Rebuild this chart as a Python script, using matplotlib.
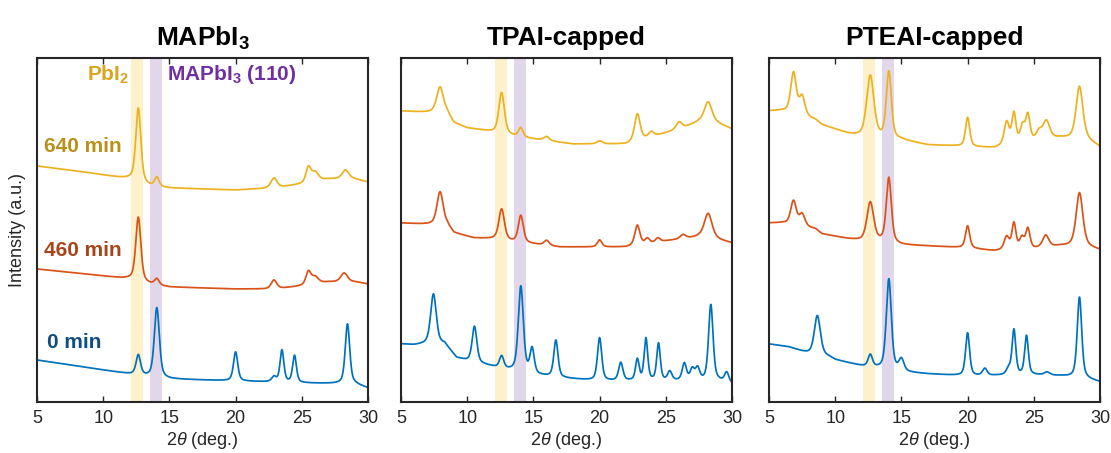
import numpy as np
import matplotlib
matplotlib.use("Agg")
import matplotlib.pyplot as plt
from matplotlib import font_manager

plt.rcParams['font.family'] = ['Liberation Sans', 'DejaVu Sans']
plt.rcParams['mathtext.fontset'] = 'custom'
plt.rcParams['mathtext.rm'] = 'Liberation Sans'
plt.rcParams['mathtext.it'] = 'Liberation Sans:italic'
plt.rcParams['mathtext.bf'] = 'Liberation Sans:bold'

_names = {f.name for f in font_manager.fontManager.ttflist}
tick_family = ['Liberation Sans Narrow'] if 'Liberation Sans Narrow' in _names else ['Liberation Sans']

# ---------------- data ----------------
titles = ["MAPbI$_\\mathbf{3}$", "TPAI-capped", "PTEAI-capped"]
series_names = ["0 min", "460 min", "640 min"]
x_ticks = [5, 10, 15, 20, 25, 30]

# Each trace: baseline anchor points (2theta, intensity) and peaks (pos, height, fwhm)
# ---- Panel 1: MAPbI3
p1_0min_base_x = [5, 8, 12, 13.5, 15, 20, 25, 29, 30]
p1_0min_base_y = [42, 36, 28, 25, 23, 21, 19, 18, 14]
p1_0min_peaks = [(12.65, 20, 0.4), (14.05, 70, 0.45), (20.0, 29, 0.38), (22.9, 5, 0.4),
                 (23.5, 32, 0.34), (24.45, 27, 0.34), (28.45, 60, 0.4)]

p1_460_base_x = [5, 8, 12, 13.5, 15, 20, 23, 25, 27, 29, 30]
p1_460_base_y = [133, 129, 123, 118, 115, 113, 113, 116, 120, 120, 118]
p1_460_peaks = [(12.65, 64, 0.45), (14.05, 6, 0.4), (22.9, 9, 0.5),
                (25.5, 13, 0.45), (26.0, 7, 0.6), (28.2, 9, 0.6)]

p1_640_base_x = [5, 8, 12, 13.5, 15, 20, 23, 25, 27, 29, 30]
p1_640_base_y = [236, 231, 223, 216, 214, 212, 214, 218, 223, 223, 220]
p1_640_peaks = [(12.65, 74, 0.45), (14.05, 9, 0.4), (22.9, 10, 0.55),
                (25.5, 15, 0.45), (26.0, 9, 0.6), (28.3, 9, 0.6)]

# ---- Panel 2: TPAI-capped
p2_0min_base_x = [5, 6, 7, 8.3, 9.2, 10, 12, 13, 15, 17, 20, 25, 29, 30]
p2_0min_base_y = [58, 57, 58, 58, 44, 41, 35, 32, 27, 24, 21, 21, 21, 18]
p2_0min_peaks = [(7.45, 50, 0.5), (10.55, 36, 0.42), (12.6, 12, 0.38), (14.05, 86, 0.45),
                 (14.9, 25, 0.38), (16.7, 37, 0.38), (20.0, 43, 0.38), (21.6, 18, 0.38),
                 (22.85, 21, 0.32), (23.5, 42, 0.32), (24.45, 37, 0.32), (25.3, 9, 0.38),
                 (26.4, 17, 0.38), (27.0, 11, 0.38), (27.4, 12, 0.38), (28.4, 76, 0.4),
                 (29.6, 10, 0.38)]

p2_460_base_x = [5, 6.5, 8.5, 9, 10.5, 12, 13.5, 15, 17, 22, 25, 27.5, 29, 30]
p2_460_base_y = [179, 178, 177, 169, 164, 163, 160, 158, 155, 155, 161, 165, 162, 159]
p2_460_peaks = [(7.95, 33, 0.55), (12.6, 31, 0.5), (14.05, 27, 0.45), (16.0, 5, 0.45),
                (20.0, 7, 0.4), (22.85, 20, 0.45), (23.6, 5, 0.4), (24.4, 4, 0.4),
                (26.3, 4, 0.5), (28.2, 25, 0.7)]

p2_640_base_x = [5, 6.5, 8.5, 9, 10, 11.5, 13.5, 15, 18, 22, 25, 26.5, 27.5, 29, 30]
p2_640_base_y = [291, 290, 289, 279, 274, 271, 266, 263, 258, 258, 269, 275, 280, 278, 273]
p2_640_peaks = [(7.95, 26, 0.6), (12.6, 41, 0.5), (14.05, 9, 0.4), (16.0, 4, 0.5),
                (20.0, 3, 0.5), (22.85, 27, 0.5), (23.9, 5, 0.45), (26.0, 7, 0.5),
                (28.2, 21, 0.7)]

# ---- Panel 3: PTEAI-capped
p3_0min_base_x = [5, 6.5, 7.6, 8.3, 9.5, 10, 12, 13.5, 15, 17, 20, 25, 27, 29, 30]
p3_0min_base_y = [58, 55, 50, 47, 45, 42, 36, 33, 30, 28, 26, 27, 26, 23, 20]
p3_0min_peaks = [(8.65, 40, 0.55), (12.65, 12, 0.38), (14.05, 91, 0.45), (15.0, 12, 0.45),
                 (20.0, 43, 0.36), (21.3, 7, 0.4), (23.1, 6, 0.4), (23.5, 45, 0.33),
                 (24.45, 39, 0.33), (26.0, 3, 0.5), (28.45, 81, 0.4)]

p3_460_base_x = [5, 6, 8.5, 9, 11, 12, 13.5, 15, 17, 20, 22, 25, 27, 29, 30]
p3_460_base_y = [179, 179, 173, 168, 163, 161, 160, 157, 156, 154, 151, 153, 156, 155, 152]
p3_460_peaks = [(6.85, 24, 0.5), (7.5, 12, 0.5), (12.65, 39, 0.6), (14.05, 65, 0.45),
                (20.0, 22, 0.38), (22.95, 13, 0.45), (23.5, 26, 0.36), (24.1, 11, 0.4),
                (24.55, 20, 0.38), (25.9, 12, 0.55), (28.45, 54, 0.6)]

p3_640_base_x = [5, 6, 8.5, 9, 11, 12, 13.5, 15, 17, 19, 22, 25, 27, 29, 30]
p3_640_base_y = [291, 291, 282, 277, 268, 265, 263, 262, 257, 256, 254, 261, 264, 262, 255]
p3_640_peaks = [(6.85, 41, 0.5), (7.5, 19, 0.5), (12.65, 62, 0.65), (14.05, 67, 0.45),
                (20.0, 29, 0.38), (22.95, 23, 0.45), (23.5, 30, 0.36), (24.15, 16, 0.4),
                (24.55, 26, 0.38), (25.4, 8, 0.5), (25.95, 18, 0.6), (28.45, 53, 0.6)]

# Highlight bands (2theta ranges)
pbi2_band = (12.1, 13.0)
mapbi3_band = (13.5, 14.45)

# ---------------- styling ----------------
line_colors = ["#0072BD", "#D95319", "#EDB120"]
label_colors = ["#0E4E80", "#A8441A", "#B8901A"]
band_colors = ["#FCF1CB", "#E2D6EA"]

panels = [
    [(p1_0min_base_x, p1_0min_base_y, p1_0min_peaks),
     (p1_460_base_x, p1_460_base_y, p1_460_peaks),
     (p1_640_base_x, p1_640_base_y, p1_640_peaks)],
    [(p2_0min_base_x, p2_0min_base_y, p2_0min_peaks),
     (p2_460_base_x, p2_460_base_y, p2_460_peaks),
     (p2_640_base_x, p2_640_base_y, p2_640_peaks)],
    [(p3_0min_base_x, p3_0min_base_y, p3_0min_peaks),
     (p3_460_base_x, p3_460_base_y, p3_460_peaks),
     (p3_640_base_x, p3_640_base_y, p3_640_peaks)],
]


def trace(xg, bx, by, peaks):
    y = np.interp(xg, bx, by)
    for pos, h, w in peaks:
        g = np.exp(-4 * np.log(2) * ((xg - pos) / w) ** 2)
        l = 1.0 / (1.0 + 4 * ((xg - pos) / w) ** 2)
        y = y + h * (0.5 * g + 0.5 * l)
    return y


W, H = 1111, 453
fig = plt.figure(figsize=(W / 100, H / 100), dpi=100)
lefts = [37, 401, 769]
axw = 331
bottom_px, top_px = 402, 58

xg = np.linspace(5, 30, 1500)
for i, left in enumerate(lefts):
    ax = fig.add_axes([left / W, (H - bottom_px) / H, axw / W, (bottom_px - top_px) / H])
    ax.axvspan(*pbi2_band, color=band_colors[0], lw=0, zorder=0)
    ax.axvspan(*mapbi3_band, color=band_colors[1], lw=0, zorder=0)
    for j, (bx, by, pk) in enumerate(panels[i]):
        ax.plot(xg, trace(xg, bx, by, pk), color=line_colors[j], lw=1.25, zorder=2)
    ax.set_xlim(5, 30)
    ax.set_ylim(0, bottom_px - top_px)
    ax.set_xticks(x_ticks)
    ax.set_xticklabels([str(t) for t in x_ticks], fontsize=13, color="#262626",
                       family=tick_family)
    ax.set_yticks([])
    ax.tick_params(axis='x', direction='in', length=4, width=1.0, top=True, color="#262626", pad=6)
    for s in ax.spines.values():
        s.set_linewidth(1.5)
        s.set_color("#262626")
    ax.set_xlabel("2$\\theta$ (deg.)", fontsize=13, color="#262626", labelpad=2)
    ax.set_title(titles[i], fontsize=19, fontweight='bold', pad=9)
    if i == 0:
        ax.set_ylabel("Intensity (a.u.)", fontsize=13, color="#262626", labelpad=8)
        ax.text(5.55, 256, series_names[2], color=label_colors[2], fontsize=15,
                fontweight='bold', va='center', ha='left')
        ax.text(5.55, 152, series_names[1], color=label_colors[1], fontsize=15,
                fontweight='bold', va='center', ha='left')
        ax.text(5.75, 59, series_names[0], color=label_colors[0], fontsize=15,
                fontweight='bold', va='center', ha='left')
        ax.text(11.95, 327, "PbI$_\\mathbf{2}$", color="#D9A520", fontsize=15,
                fontweight='bold', va='center', ha='right')
        ax.text(14.8, 327, "MAPbI$_\\mathbf{3}$ (110)", color="#7030A0", fontsize=15,
                fontweight='bold', va='center', ha='left')

fig.savefig("out.png", dpi=100)
